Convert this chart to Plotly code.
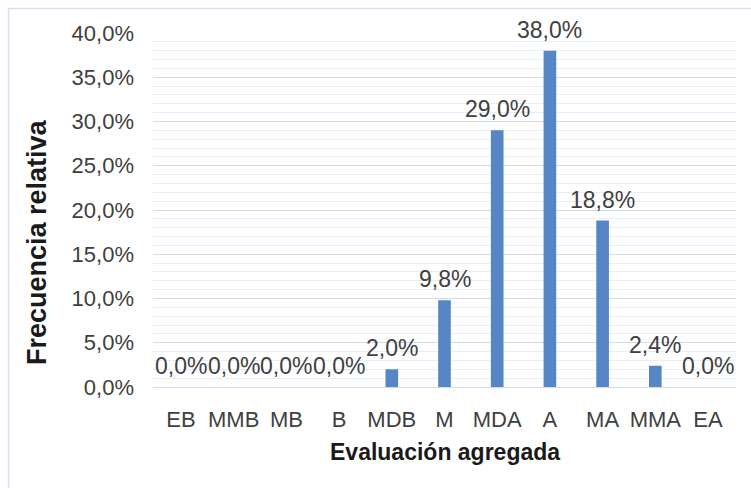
import plotly.graph_objects as go

categories = ["EB", "MMB", "MB", "B", "MDB", "M", "MDA", "A", "MA", "MMA", "EA"]
frecuencia = [0.0, 0.0, 0.0, 0.0, 0.020, 0.098, 0.290, 0.380, 0.188, 0.024, 0.0]
y_ticks = [0.0, 0.05, 0.10, 0.15, 0.20, 0.25, 0.30, 0.35, 0.40]

W, H = 751, 488
L, R, T, B = 153, 15, 33, 101
PW, PH = W - L - R, H - T - B


def px_x(x):
    # pixel -> paper (horizontal)
    return (x - L) / PW


def px_y(y):
    return (H - B - y) / PH


fig = go.Figure(
    go.Bar(
        x=categories,
        y=frecuencia,
        width=0.24,
        marker=dict(color="#5686c6", line=dict(width=0)),
        hoverinfo="skip",
    )
)

# data labels like Excel, slightly above the bars
for cat, val in zip(categories, frecuencia):
    fig.add_annotation(
        x=cat, y=val, text=f"{val * 100:.1f}%".replace(".", ","),
        showarrow=False, yanchor="bottom", yshift=6,
        font=dict(family="Liberation Sans, Arial", size=23, color="#404040"),
    )

fig.add_annotation(
    x=px_x(37), y=px_y(242), xref="paper", yref="paper",
    xanchor="center", yanchor="middle",
    text="<b>Frecuencia relativa</b>", textangle=-90, showarrow=False,
    font=dict(family="Liberation Sans, Arial", size=27, color="#1a1a1a"),
)
fig.add_annotation(
    x=px_x(445), y=px_y(452), xref="paper", yref="paper",
    xanchor="center", yanchor="middle",
    text="<b>Evaluación agregada</b>", showarrow=False,
    font=dict(family="Liberation Sans, Arial", size=23, color="#1a1a1a"),
)

# chart area border
fig.add_shape(
    type="rect", xref="paper", yref="paper",
    x0=px_x(8.5), x1=px_x(780), y0=px_y(520), y1=px_y(8.5),
    line=dict(color="#d6e0f0", width=1.5), layer="below",
)

fig.update_layout(
    width=W, height=H,
    margin=dict(l=L, r=R, t=T, b=B),
    paper_bgcolor="white", plot_bgcolor="white",
    separators=",.",
    showlegend=False,
    bargap=0.76,
    font=dict(family="Liberation Sans, Arial", size=22, color="#404040"),
)
fig.update_yaxes(
    range=[0, 0.40], tickvals=y_ticks, tickformat=".1%",
    showgrid=True, gridcolor="#cfdbee", gridwidth=1,
    minor=dict(dtick=0.01, showgrid=True, gridcolor="#e8eef8", gridwidth=1),
    zeroline=False, showline=False, ticks="", ticklabelstandoff=18,
    tickfont=dict(size=22, color="#404040"), automargin=False,
)
fig.update_xaxes(
    showgrid=False, showline=True, linecolor="#cfdbee", linewidth=1,
    ticks="", ticklabelstandoff=13,
    tickfont=dict(size=22, color="#404040"), automargin=False,
)

# page body margin would shift the chart by 8px
fig.write_html(
    "out.html",
    config={"displayModeBar": False},
    post_script="document.body.style.margin='0';",
)
